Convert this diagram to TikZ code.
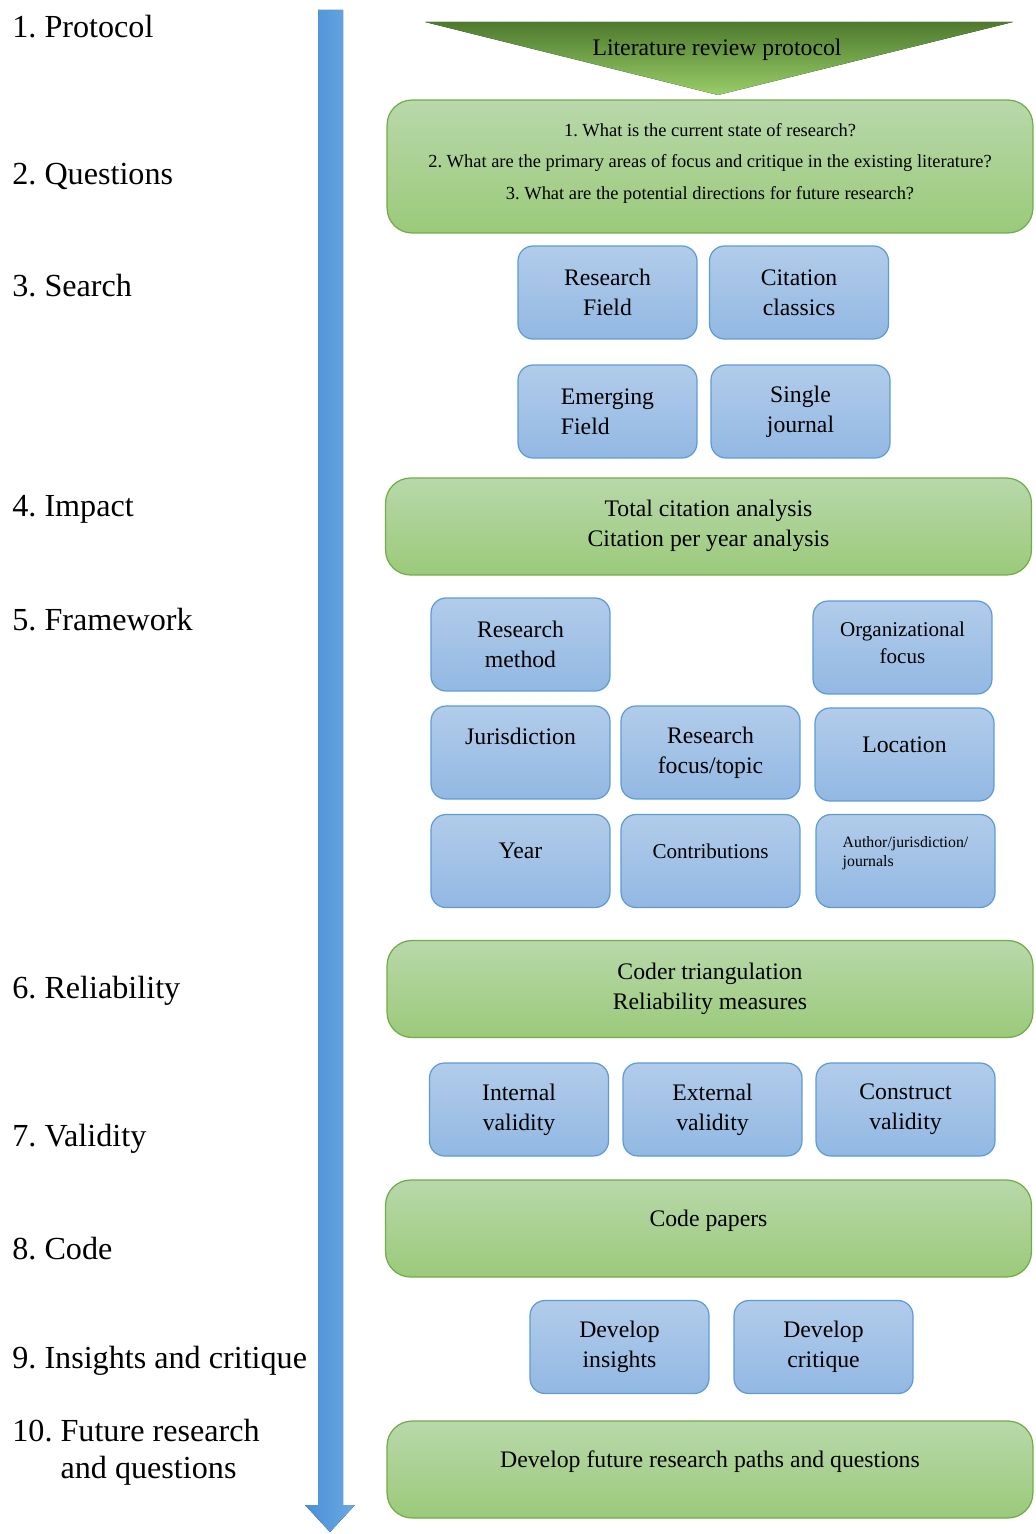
\documentclass[tikz,border=0pt]{standalone}
\usepackage{fontspec}
\setmainfont{Liberation Serif}
\frenchspacing
\usetikzlibrary{positioning}
\definecolor{bluetop}{RGB}{178,204,234}
\definecolor{bluebot}{RGB}{146,184,227}
\definecolor{blueline}{RGB}{94,155,213}
\definecolor{greentop}{RGB}{184,216,170}
\definecolor{greenbot}{RGB}{155,202,122}
\definecolor{greenline}{RGB}{113,172,72}
\definecolor{darkgreen}{RGB}{78,122,46}
\definecolor{lightgreen}{RGB}{152,206,104}
\definecolor{arrowleft}{RGB}{74,144,216}
\definecolor{arrowright}{RGB}{106,168,224}
\tikzset{
    box/.style ={rectangle, rounded corners=0.3cm, draw=blueline, line width=0.7pt,
                 top color=bluetop, bottom color=bluebot, minimum width=3.58cm,
                 minimum height=1.86cm, align=center, font=\fontsize{13.5}{17}\selectfont},
    band/.style={rectangle, rounded corners=0.5cm, draw=greenline, line width=0.7pt,
                 top color=greentop, bottom color=greenbot, minimum width=12.92cm,
                 minimum height=1.94cm, align=center, font=\fontsize{13.5}{17}\selectfont},
    stage/.style={anchor=west, align=left, inner sep=0pt, font=\fontsize{18.3}{21}\selectfont},
    lift/.style={text depth=#1}
}

\begin{document}
\begin{tikzpicture}[x=0.02cm, y=-0.02cm]
    \useasboundingbox (0,0) rectangle (1035,1534);

    % timeline arrow down the left
    \fill[left color=arrowleft, right color=arrowright]
        (318,10) -- (343,10) -- (343,1505) -- (355,1505) -- (330,1532)
        -- (305,1505) -- (318,1505) -- cycle;

    % stage labels
    \node[stage] (s1) at (12,27) {1. Protocol};
    \node[stage] (s2) at (12,176) {2. Questions};
    \node[stage] (s3) at (12,286) {3. Search};
    \node[stage] (s4) at (12,509) {4. Impact};
    \node[stage] (s5) at (12,620) {5. Framework};
    \node[stage] (s6) at (12,991) {6. Reliability};
    \node[stage] (s7) at (12,1139) {7. Validity};
    \node[stage] (s8) at (12,1249) {8. Code};
    \node[stage] (s9) at (12,1361) {9. Insights and critique};
    \node[stage] (s10) at (12,1452) {10. Future research\\\hphantom{10. }and questions};

    % protocol funnel
    \fill[top color=darkgreen, bottom color=lightgreen] (425,22) -- (1013,22) -- (718,95) -- cycle;
    \node[font=\fontsize{13.5}{17}\selectfont] (p) at (717,50) {Literature review protocol};

    \node[band, minimum height=2.66cm, lift=0.2cm, font=\fontsize{10.5}{18.1}\selectfont] (q) at (710,166.5)
        {1. What is the current state of research?\\
         2. What are the primary areas of focus and critique in the existing literature?\\
         3. What are the potential directions for future research?};

    % search
    \node[box] (rf) at (607.5,292.5) {Research\\Field};
    \node[box] (cc) at (799,292.5) {Citation\\classics};
    \node[box, align=left] (ef) at (607.5,411.5) {Emerging\\Field};
    \node[box] (sj) at (800.5,411.5) {Single\\journal};

    \node[band, lift=0.12cm] (im) at (708.5,526.5) {Total citation analysis\\Citation per year analysis};

    % framework
    \node[box] (rm) at (520.5,644.5) {Research\\method};
    \node[box, lift=0.2cm, font=\fontsize{12}{15.3}\selectfont] (of) at (902.5,647.5) {Organizational\\focus};
    \node[box, lift=0.64cm] (ju) at (520.5,752.5) {Jurisdiction};
    \node[box] (rt) at (710.5,752.5) {Research\\focus/topic};
    \node[box, lift=0.4cm] (lo) at (904.5,754.5) {Location};
    \node[box, lift=0.42cm] (yr) at (520.5,861) {Year};
    \node[box, lift=0.4cm, font=\fontsize{12}{15.3}\selectfont] (co) at (710.5,861) {Contributions};
    \node[box, lift=0.38cm, align=left, font=\fontsize{9}{11.3}\selectfont] (aj) at (905.5,861)
        {Author/jurisdiction/\\journals};

    \node[band, lift=0.12cm] (re) at (710,989) {Coder triangulation\\Reliability measures};

    % validity
    \node[box] (iv) at (519,1109.5) {Internal\\validity};
    \node[box] (ev) at (712.5,1109.5) {External\\validity};
    \node[box] (cv) at (905.5,1109.5) {Construct\\validity};

    \node[band, lift=0.42cm] (cp) at (708.5,1228.5) {Code papers};

    \node[box] (di) at (619.5,1347) {Develop\\insights};
    \node[box] (dc) at (823.5,1347) {Develop\\critique};

    \node[band, lift=0.42cm] (fr) at (710,1469.5) {Develop future research paths and questions};
\end{tikzpicture}
\end{document}
